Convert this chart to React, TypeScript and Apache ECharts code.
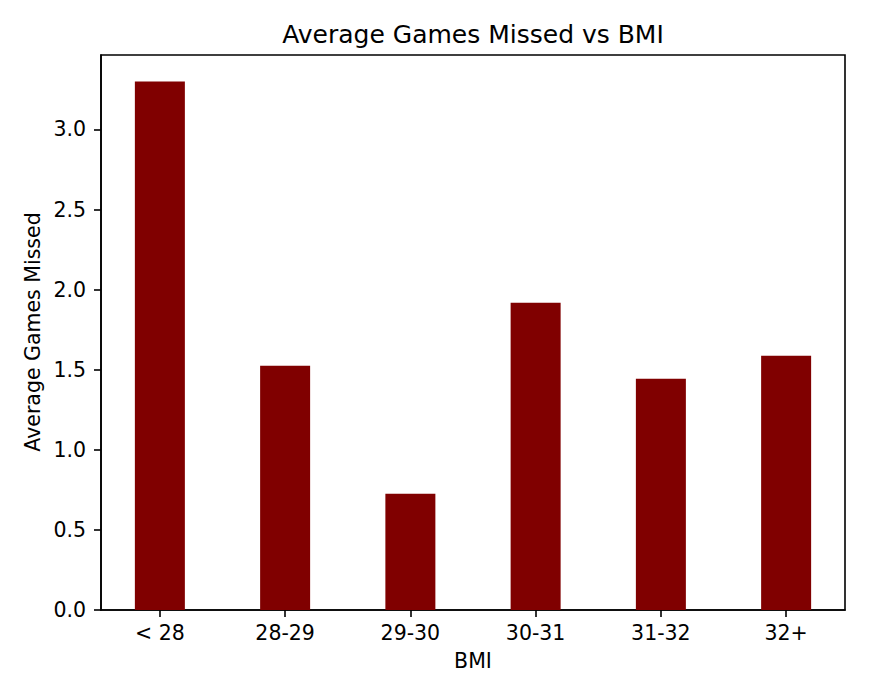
import React, { useEffect, useRef } from "react";
import * as echarts from "echarts";

const categories = ["< 28", "28-29", "29-30", "30-31", "31-32", "32+"];
const avgGamesMissed = [3.3, 1.525, 0.725, 1.919, 1.444, 1.588];
const yTicks = [0, 0.5, 1.0, 1.5, 2.0, 2.5, 3.0];
const titleText = "Average Games Missed vs BMI";
const xName = "BMI";
const yName = "Average Games Missed";

const FONT = "DejaVu Sans";

export default function App() {
  const ref = useRef<HTMLDivElement>(null);
  useEffect(() => {
    if (!ref.current) return;
    const chart = echarts.init(ref.current, null, { renderer: "svg" });
    const xIdx = categories.map((_, i) => i);
    const yMax = Math.max(...avgGamesMissed) * 1.05;
    chart.setOption({
      animation: false,
      backgroundColor: "#ffffff",
      grid: {
        left: 101,
        top: 55,
        right: 37,
        bottom: 73,
        show: true,
        borderColor: "#000",
        borderWidth: 1.6,
        backgroundColor: "transparent",
      },
      xAxis: {
        type: "value",
        min: -0.47,
        max: categories.length - 1 + 0.47,
        splitLine: { show: false },
        axisLine: { show: true, onZero: false, lineStyle: { color: "#000", width: 1.6 } },
        axisTick: {
          show: true,
          length: 7,
          customValues: xIdx,
          lineStyle: { color: "#000", width: 1.6 },
        },
        axisLabel: {
          customValues: xIdx,
          formatter: (v: number) => categories[Math.round(v)] ?? "",
          color: "#000",
          fontFamily: FONT,
          fontSize: 20.5,
          margin: 12,
        },
      },
      yAxis: {
        type: "value",
        min: 0,
        max: yMax,
        splitLine: { show: false },
        axisLine: { show: true, onZero: false, lineStyle: { color: "#000", width: 1.6 } },
        axisTick: {
          show: true,
          length: 7,
          customValues: yTicks,
          lineStyle: { color: "#000", width: 1.6 },
        },
        axisLabel: {
          customValues: yTicks,
          formatter: (v: number) => v.toFixed(1),
          color: "#000",
          fontFamily: FONT,
          fontSize: 20.5,
          margin: 15,
        },
      },
      series: [
        {
          type: "bar",
          data: avgGamesMissed.map((v, i) => [i, v]),
          barWidth: 50,
          itemStyle: { color: "#800000" },
        },
      ],
      graphic: [
        {
          type: "text",
          x: 473,
          y: 34,
          style: {
            text: titleText,
            fontFamily: FONT,
            fontSize: 25,
            fill: "#000",
            textAlign: "center",
            textVerticalAlign: "middle",
          },
        },
        {
          type: "text",
          x: 473,
          y: 661,
          style: {
            text: xName,
            fontFamily: FONT,
            fontSize: 20.5,
            fill: "#000",
            textAlign: "center",
            textVerticalAlign: "middle",
          },
        },
        {
          type: "text",
          x: 33,
          y: 332,
          rotation: Math.PI / 2,
          style: {
            text: yName,
            fontFamily: FONT,
            fontSize: 20.5,
            fill: "#000",
            textAlign: "center",
            textVerticalAlign: "middle",
          },
        },
      ],
    });
    return () => chart.dispose();
  }, []);
  return (
    <div
      ref={ref}
      style={{ position: "fixed", left: 0, top: 0, width: 882, height: 683 }}
    />
  );
}
